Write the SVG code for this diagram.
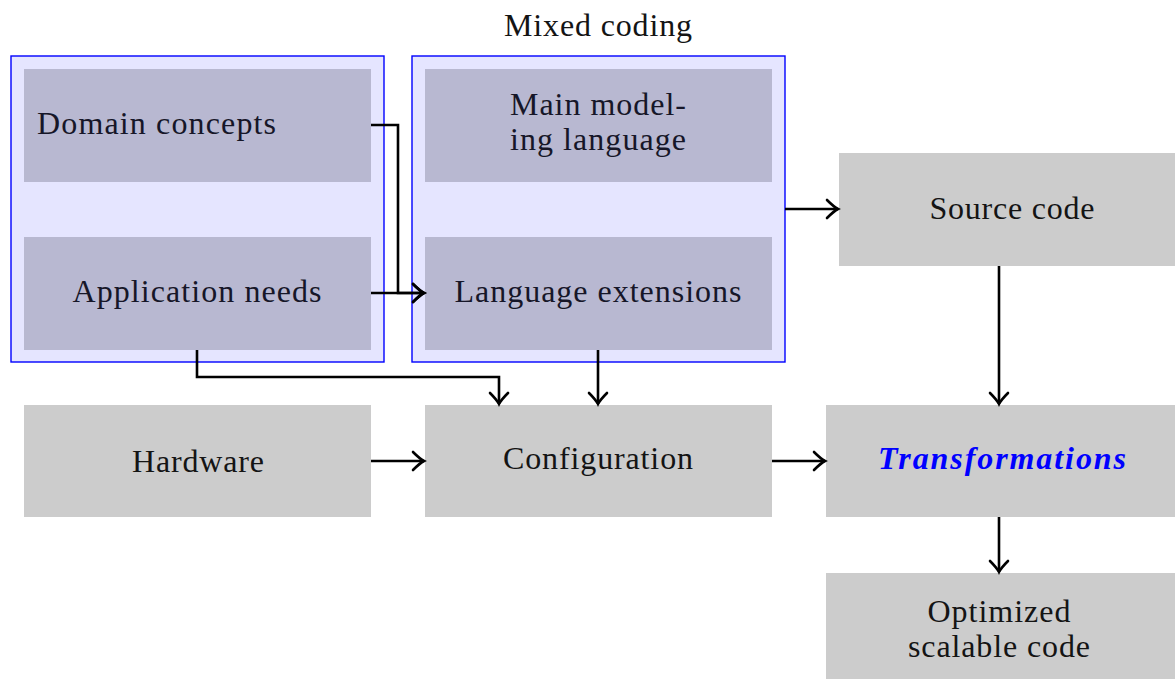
<svg xmlns="http://www.w3.org/2000/svg" width="1175" height="679" viewBox="0 0 1175 679">
<defs>
<style>
.grp{fill:#e5e5ff;stroke:#0000ff;stroke-width:1.4}
.inner{fill:#b8b8d1}
.box{fill:#cccccc}
text{font-family:"Liberation Serif","Times New Roman",serif;font-size:32px;fill:#141414}
.it{fill:#161628}
.c{text-anchor:middle}
.tr{fill:#0000ff;font-weight:bold;font-style:italic}
.edge{fill:none;stroke:#000;stroke-width:2.6;marker-end:url(#arr)}
</style>
<marker id="arr" markerUnits="userSpaceOnUse" markerWidth="30" markerHeight="30" refX="0" refY="0" orient="auto" overflow="visible" viewBox="-15 -15 30 30">
<path d="M-11 -9 Q-4 -2 0 0 Q-4 2 -11 9" fill="none" stroke="#000" stroke-width="2.6" stroke-linecap="round"/>
</marker>
</defs>
<rect width="1175" height="679" fill="#fff"/>
<g id="domain-group">
<rect class="grp" x="11" y="56" width="373" height="306"/>
</g>
<g id="mixed-coding">
<rect class="grp" x="412" y="56" width="373" height="306"/>
<text class="c" x="598" y="36" textLength="188" lengthAdjust="spacing">Mixed coding</text>
</g>
<g id="domain-concepts">
<rect class="inner" x="24" y="69" width="347" height="113"/>
<text class="it" x="37" y="134" textLength="239" lengthAdjust="spacing">Domain concepts</text>
</g>
<g id="application-needs">
<rect class="inner" x="24" y="237" width="347" height="113"/>
<text class="it c" x="197" y="302" textLength="249" lengthAdjust="spacing">Application needs</text>
</g>
<g id="main-modeling-language">
<rect class="inner" x="425" y="69" width="347" height="113"/>
<text class="it c" x="598" y="115" textLength="176" lengthAdjust="spacing">Main model-</text>
<text class="it c" x="598" y="150" textLength="176" lengthAdjust="spacing">ing language</text>
</g>
<g id="language-extensions">
<rect class="inner" x="425" y="237" width="347" height="113"/>
<text class="it c" x="598" y="302" textLength="287" lengthAdjust="spacing">Language extensions</text>
</g>
<g id="source-code">
<rect class="box" x="839" y="153" width="347" height="113"/>
<text class="c" x="1012" y="219" textLength="165" lengthAdjust="spacing">Source code</text>
</g>
<g id="hardware">
<rect class="box" x="24" y="405" width="347" height="112"/>
<text class="c" x="198" y="472" textLength="132" lengthAdjust="spacing">Hardware</text>
</g>
<g id="configuration">
<rect class="box" x="425" y="405" width="347" height="112"/>
<text class="c" x="598" y="469" textLength="190" lengthAdjust="spacing">Configuration</text>
</g>
<g id="transformations">
<rect class="box" x="826" y="405" width="349" height="112"/>
<text class="c tr" x="1002" y="469" textLength="248" lengthAdjust="spacing">Transformations</text>
</g>
<g id="optimized-code">
<rect class="box" x="826" y="573" width="349" height="106"/>
<text class="c" x="999" y="622" textLength="143" lengthAdjust="spacing">Optimized</text>
<text class="c" x="999" y="657" textLength="182" lengthAdjust="spacing">scalable code</text>
</g>
<g id="connectors">
<path class="edge" d="M371 125 H398 V293 H424"/>
<path class="edge" d="M371 293 H424"/>
<path class="edge" d="M197 350 V377 H499 V404"/>
<path class="edge" d="M598 350 V404"/>
<path class="edge" d="M785 209 H838"/>
<path class="edge" d="M999 266 V404"/>
<path class="edge" d="M371 461 H424"/>
<path class="edge" d="M772 461 H825"/>
<path class="edge" d="M999 517 V572"/>
</g>
</svg>
